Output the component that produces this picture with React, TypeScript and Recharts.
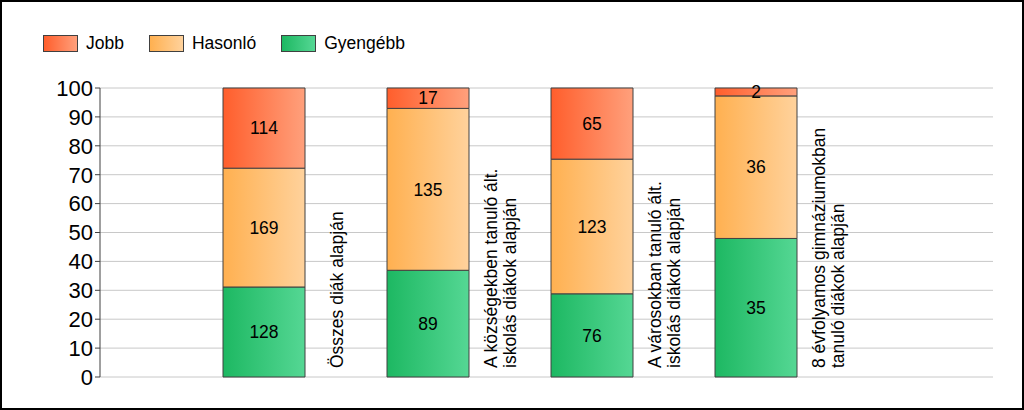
import React from 'react';
import { BarChart, Bar, XAxis, YAxis, CartesianGrid, LabelList } from 'recharts';

// Chart data
const categories = [
  'Összes diák alapján',
  'A községekben tanuló ált.\niskolás diákok alapján',
  'A városokban tanuló ált.\niskolás diákok alapján',
  '8 évfolyamos gimnáziumokban\ntanuló diákok alapján',
];
const gyengebb = [128, 89, 76, 35];
const hasonlo = [169, 135, 123, 36];
const jobb = [114, 17, 65, 2];
const yTicks = [0, 10, 20, 30, 40, 50, 60, 70, 80, 90, 100];

const series = [
  { key: 'jobb', name: 'Jobb', from: '#ff5e2c', to: '#ffa07c' },
  { key: 'hasonlo', name: 'Hasonló', from: '#ffb050', to: '#ffd29c' },
  { key: 'gyengebb', name: 'Gyengébb', from: '#1db862', to: '#55d794' },
];

const FONT = '"Liberation Sans", Arial, sans-serif';

const rows = categories.map((name, i) => ({
  name,
  gyengebb: gyengebb[i],
  hasonlo: hasonlo[i],
  jobb: jobb[i],
}));

// rotated category text sitting to the right of each bar
const CategoryLabel = (props: any) => {
  const { x, y, width, height, value } = props;
  const lines = String(value).split('\n');
  const px = Number(x) + Number(width) + 37.5 - (lines.length - 1) * 9.5;
  const py = Number(y) + Number(height) - 9;
  return (
    <text
      x={px}
      y={py}
      transform={`rotate(-90, ${px}, ${py})`}
      fontSize={17.5}
      fontFamily={FONT}
      fill="#000"
      textAnchor="start"
    >
      {lines.map((line, i) => (
        <tspan key={i} x={px} dy={i === 0 ? 0 : 19}>
          {line}
        </tspan>
      ))}
    </text>
  );
};

const LegendBox = () => (
  <div
    style={{
      position: 'absolute',
      left: 43,
      top: 33,
      display: 'flex',
      alignItems: 'center',
      fontFamily: FONT,
      fontSize: 17.5,
      color: '#000',
    }}
  >
    {series.map(s => (
      <div key={s.key} style={{ display: 'flex', alignItems: 'center', marginRight: 25 }}>
        <div
          style={{
            width: 33,
            height: 15,
            border: '1px solid #404040',
            background: `linear-gradient(to right, ${s.from}, ${s.to})`,
            marginRight: 8,
          }}
        />
        <span>{s.name}</span>
      </div>
    ))}
  </div>
);

export default function App() {
  const stackOrder = [...series].reverse();
  return (
    <div
      style={{
        position: 'absolute',
        left: 0,
        top: 0,
        width: 1024,
        height: 410,
        background: '#fff',
        fontFamily: FONT,
      }}
    >
      <BarChart
        width={1024}
        height={410}
        data={rows}
        stackOffset="expand"
        margin={{ top: 88, right: 31, bottom: 33, left: 0 }}
      >
        <defs>
          {series.map(s => (
            <linearGradient key={s.key} id={`grad-${s.key}`} x1="0" y1="0" x2="1" y2="0">
              <stop offset="0%" stopColor={s.from} />
              <stop offset="100%" stopColor={s.to} />
            </linearGradient>
          ))}
        </defs>
        <CartesianGrid vertical={false} stroke="#c8c8c8" />
        <XAxis
          dataKey="name"
          height={0}
          tick={false}
          tickLine={false}
          axisLine={{ stroke: '#404040' }}
          padding={{ left: 82, right: 155 }}
        />
        <YAxis
          width={100}
          domain={[0, 1]}
          ticks={yTicks.map(t => t / 100)}
          interval={0}
          tickFormatter={(v: number) => String(Math.round(v * 100))}
          tick={{ fontSize: 22, fill: '#000', fontFamily: FONT }}
          tickSize={5}
          tickMargin={2}
          axisLine={{ stroke: '#404040' }}
          tickLine={{ stroke: '#404040' }}
        />
        {stackOrder.map(s => (
          <Bar
            key={s.key}
            dataKey={s.key}
            name={s.name}
            stackId="a"
            barSize={82}
            fill={`url(#grad-${s.key})`}
            stroke="#404040"
            strokeWidth={1}
            isAnimationActive={false}
          >
            <LabelList dataKey={s.key} position="center" fontSize={17.5} fill="#000" fontFamily={FONT} />
            {s.key === 'gyengebb' && <LabelList dataKey="name" content={<CategoryLabel />} />}
          </Bar>
        ))}
      </BarChart>
      <LegendBox />
      <div
        style={{
          position: 'absolute',
          inset: 0,
          border: '2px solid #000',
          boxSizing: 'border-box',
          pointerEvents: 'none',
        }}
      />
    </div>
  );
}
